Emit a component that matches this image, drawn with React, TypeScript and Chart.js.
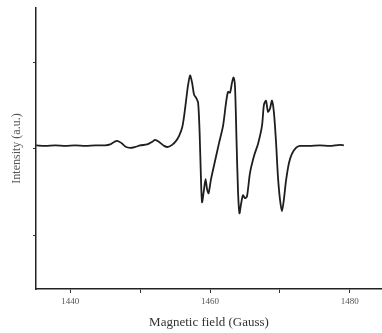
import React, { useEffect, useRef } from "react";
import { Chart, registerables } from "chart.js";

Chart.register(...registerables);

const fieldGauss: number[] = [
  1435.14, 1436.43, 1437.86, 1439.29, 1440.71, 1442.14, 1443.57, 1445.0, 1445.71, 1446.29,
  1446.71, 1447.29, 1447.86, 1448.57, 1449.29, 1450.0, 1451.0, 1451.71, 1452.14, 1452.71,
  1453.43, 1454.0, 1454.57, 1455.14, 1455.57, 1456.0, 1456.29, 1456.57, 1456.86, 1457.14,
  1457.43, 1457.71, 1458.0, 1458.29, 1458.5, 1458.71, 1458.86, 1459.14, 1459.36, 1459.57,
  1459.79, 1460.14, 1460.71, 1461.29, 1461.86, 1462.29, 1462.57, 1462.86, 1463.14, 1463.36,
  1463.57, 1463.79, 1464.0, 1464.21, 1464.43, 1464.71, 1465.0, 1465.29, 1465.71, 1466.29,
  1466.86, 1467.43, 1467.71, 1468.0, 1468.29, 1468.57, 1468.86, 1469.14, 1469.43, 1469.71,
  1470.0, 1470.29, 1470.57, 1470.86, 1471.29, 1471.71, 1472.29, 1472.86, 1474.29, 1475.71,
  1477.14, 1478.57, 1479.14,
];

const intensity: number[] = [
  0.041, 0.035, 0.041, 0.035, 0.041, 0.035, 0.041, 0.041, 0.052, 0.081,
  0.093, 0.07, 0.029, 0.012, 0.023, 0.041, 0.052, 0.081, 0.105, 0.081,
  0.035, 0.023, 0.047, 0.093, 0.151, 0.244, 0.38, 0.56, 0.74, 0.849,
  0.767, 0.628, 0.593, 0.535, 0.209, -0.372, -0.616, -0.465, -0.349, -0.465,
  -0.512, -0.349, -0.14, 0.07, 0.267, 0.535, 0.66, 0.651, 0.767, 0.826,
  0.72, 0.093, -0.488, -0.744, -0.64, -0.535, -0.57, -0.547, -0.279, -0.081,
  0.058, 0.267, 0.512, 0.558, 0.43, 0.465, 0.558, 0.419, 0.093, -0.314,
  -0.581, -0.721, -0.581, -0.372, -0.163, -0.058, 0.012, 0.035, 0.035, 0.041,
  0.035, 0.047, 0.041,
];

const xTickValues: number[] = [1440, 1450, 1460, 1470, 1480];
const xLabeledTicks: number[] = [1440, 1460, 1480];
const yTickValues: number[] = [-1, 0, 1];

const xTitle = "Magnetic field (Gauss)";
const yTitle = "Intensity (a.u.)";

export default function App() {
  const canvasRef = useRef<HTMLCanvasElement | null>(null);

  useEffect(() => {
    document.body.style.margin = "0";
    const canvas = canvasRef.current;
    if (!canvas) return;
    const points = fieldGauss.map((x, i) => ({ x, y: intensity[i] }));
    const chart = new Chart(canvas, {
      type: "line",
      data: {
        datasets: [
          {
            data: points,
            borderColor: "#1e1e1e",
            borderWidth: 1.8,
            pointRadius: 0,
            tension: 0.25,
            fill: false,
          },
        ],
      },
      options: {
        animation: false,
        responsive: false,
        maintainAspectRatio: false,
        layout: { padding: { top: 8, right: 0, bottom: 0, left: 0 } },
        plugins: { legend: { display: false }, tooltip: { enabled: false } },
        scales: {
          x: {
            type: "linear",
            min: 1435.1,
            max: 1484.6,
            afterBuildTicks: (s: any) => {
              s.ticks = xTickValues.map((v) => ({ value: v }));
            },
            afterFit: (s: any) => {
              s.height = 44;
            },
            border: { display: true, color: "#222", width: 1.5 },
            grid: { drawOnChartArea: false, drawTicks: true, tickLength: 4, color: "#333" },
            ticks: {
              padding: 3,
              color: "#555",
              font: { family: "Liberation Serif", size: 9 },
              maxRotation: 0,
              autoSkip: false,
              callback: (v: any) => (xLabeledTicks.includes(Number(v)) ? String(v) : ""),
            },
            title: {
              display: true,
              text: xTitle,
              color: "#333",
              font: { family: "Liberation Serif", size: 13 },
              padding: { top: 0, bottom: 3 },
            },
          },
          y: {
            type: "linear",
            min: -1.62,
            max: 1.63,
            afterBuildTicks: (s: any) => {
              s.ticks = yTickValues.map((v) => ({ value: v }));
            },
            afterFit: (s: any) => {
              s.width = 36;
            },
            border: { display: true, color: "#222", width: 1.5 },
            grid: { drawOnChartArea: false, drawTicks: true, tickLength: 3, color: "#333" },
            ticks: { display: true, callback: () => "", padding: 0 },
            title: {
              display: true,
              text: yTitle,
              color: "#555",
              font: { family: "Liberation Serif", size: 12 },
              padding: { top: 10, bottom: 0 },
            },
          },
        },
      },
    });
    return () => chart.destroy();
  }, []);

  return (
    <div style={{ position: "absolute", left: 0, top: 0, width: 382, height: 333, background: "#fff" }}>
      <canvas ref={canvasRef} width={382} height={333} style={{ width: 382, height: 333 }} />
    </div>
  );
}
